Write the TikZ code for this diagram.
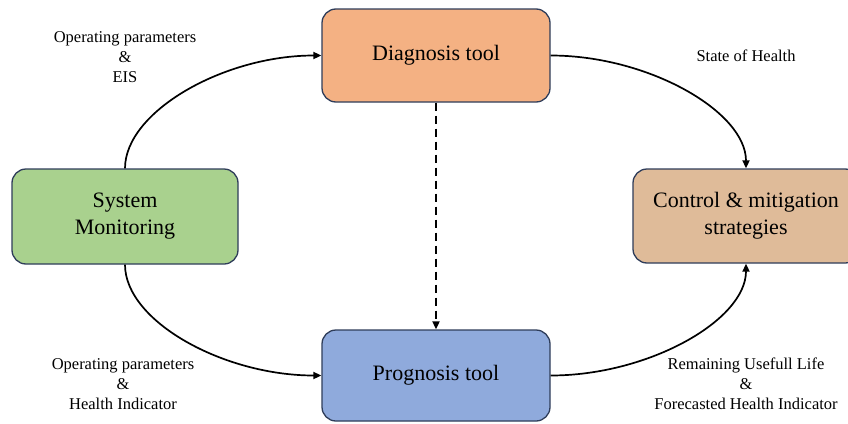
\documentclass[tikz,border=0pt]{standalone}
\usepackage{fontspec}
\setmainfont{Liberation Serif}
\usetikzlibrary{arrows.meta}
\definecolor{diagfill}{HTML}{F4B183}
\definecolor{monfill}{HTML}{A9D18E}
\definecolor{ctrlfill}{HTML}{DFBB99}
\definecolor{progfill}{HTML}{8FAADC}
\definecolor{edgeline}{HTML}{2F3D5A}
\tikzset{
  block/.style={draw=edgeline, line width=1.3pt, rounded corners=14pt,
    align=center, inner sep=0pt, font=\fontsize{22}{27}\selectfont},
  flowlabel/.style={align=center, inner sep=0pt, font=\fontsize{16.5}{20}\selectfont},
  flow/.style={line width=1.7pt, -{Triangle[length=8pt,width=7pt]}},
  dashflow/.style={line width=1.8pt, dash pattern=on 8pt off 5pt,
    -{Triangle[length=8pt,width=7pt]}}
}
\begin{document}
\begin{tikzpicture}[x=1pt, y=-1pt]
  % page frame (also trims the right-hand box at the edge)
  \clip (0,0) rectangle (848,423);
  \fill[white] (0,0) rectangle (848,423);

  % blocks
  \node[block, fill=diagfill, minimum width=228pt, minimum height=93pt] (diag) at (436,55.5) {Diagnosis tool};
  \node[block, fill=monfill, minimum width=226pt, minimum height=95pt] (mon) at (125,216.5) {System\\Monitoring};
  \node[block, fill=ctrlfill, minimum width=226pt, minimum height=94pt] (ctrl) at (746,216) {Control \& mitigation\\strategies};
  \node[block, fill=progfill, minimum width=228pt, minimum height=91pt] (prog) at (436,375.5) {Prognosis tool};

  % labels on the flows
  \node[flowlabel] (lab1) at (125,57) {Operating parameters\\\&\\EIS};
  \node[flowlabel] (lab2) at (746,56) {State of Health};
  \node[flowlabel] (lab3) at (123,384) {Operating parameters\\\&\\Health Indicator};
  \node[flowlabel] (lab4) at (746,384) {Remaining Usefull Life\\\&\\Forecasted Health Indicator};

  % curved connectors
  \draw[flow] (mon.north) .. controls +(0,-56.5) and +(-98,0) .. (diag.west);
  \draw[flow] (diag.east) .. controls +(98,0) and +(0,-56.5) .. (ctrl.north);
  \draw[flow] (mon.south) .. controls +(0,56.5) and +(-98,0) .. (prog.west);
  \draw[flow] (prog.east) .. controls +(98,0) and +(0,56.5) .. (ctrl.south);

  % dashed link between the two tools
  \draw[dashflow] (diag.south) -- (prog.north);
\end{tikzpicture}
\end{document}
